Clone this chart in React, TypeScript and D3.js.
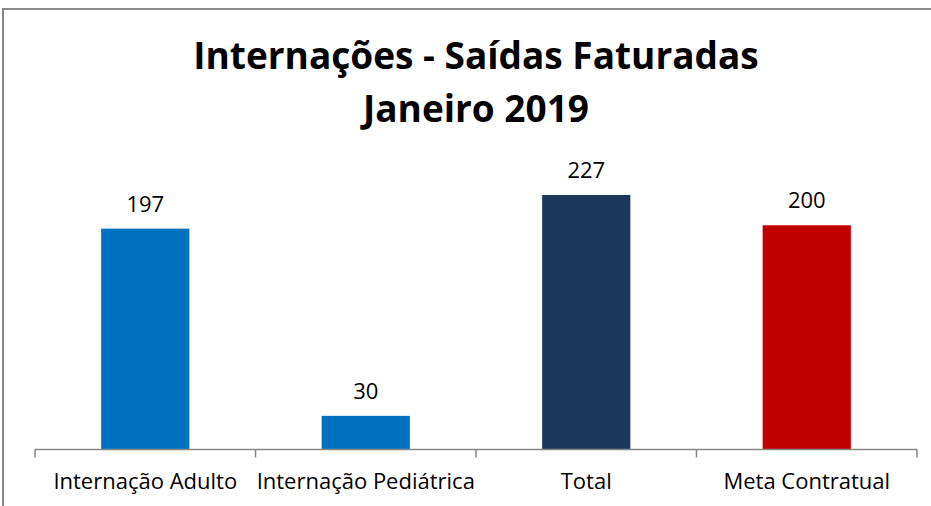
import React from 'react';
import * as d3 from 'd3';

const categories = ['Internação Adulto', 'Internação Pediátrica', 'Total', 'Meta Contratual'];
const values = [197, 30, 227, 200];
const barColors = ['#0070c0', '#0070c0', '#1b375c', '#c00000'];
const titleLines = ['Internações - Saídas Faturadas', 'Janeiro 2019'];

const W = 931;
const H = 506;
const FONT = "'Open Sans', sans-serif";

export default function App() {
  const x = d3.scaleBand<string>()
    .domain(categories)
    .range([35, 917])
    .paddingInner(0.6)
    .paddingOuter(0.3);

  const y = d3.scaleLinear().domain([0, 250]).range([449.5, 169.2]);
  const step = x.step();
  const x0 = x.range()[0];
  const baseY = y(0);

  return (
    <svg
      width={W}
      height={H}
      style={{ position: 'absolute', left: 0, top: 0, background: '#fff' }}
    >
      <rect x={3} y={9} width={W + 10} height={H + 10} fill="#fff" stroke="#898989" strokeWidth={2} />

      {titleLines.map((t, i) => (
        <text
          key={t}
          x={476}
          y={69 + i * 53}
          textAnchor="middle"
          fontFamily={FONT}
          fontWeight="bold"
          fontSize={37}
          fill="#000"
        >
          {t}
        </text>
      ))}

      {categories.map((c, i) => (
        <g key={c}>
          <rect
            x={x(c)}
            y={y(values[i])}
            width={x.bandwidth()}
            height={baseY - y(values[i])}
            fill={barColors[i]}
          />
          <text
            x={(x(c) ?? 0) + x.bandwidth() / 2}
            y={y(values[i]) - 17}
            textAnchor="middle"
            fontFamily={FONT}
            fontSize={22}
            fill="#000"
          >
            {values[i]}
          </text>
          <text
            x={(x(c) ?? 0) + x.bandwidth() / 2}
            y={489}
            textAnchor="middle"
            fontFamily={FONT}
            fontSize={22}
            fill="#000"
          >
            {c}
          </text>
        </g>
      ))}

      {/* category axis */}
      <line x1={x0} x2={x.range()[1]} y1={baseY} y2={baseY} stroke="#868686" strokeWidth={1.5} />
      {d3.range(categories.length + 1).map(i => (
        <line
          key={i}
          x1={x0 + i * step}
          x2={x0 + i * step}
          y1={baseY}
          y2={baseY + 8}
          stroke="#868686"
          strokeWidth={1.5}
        />
      ))}
    </svg>
  );
}
